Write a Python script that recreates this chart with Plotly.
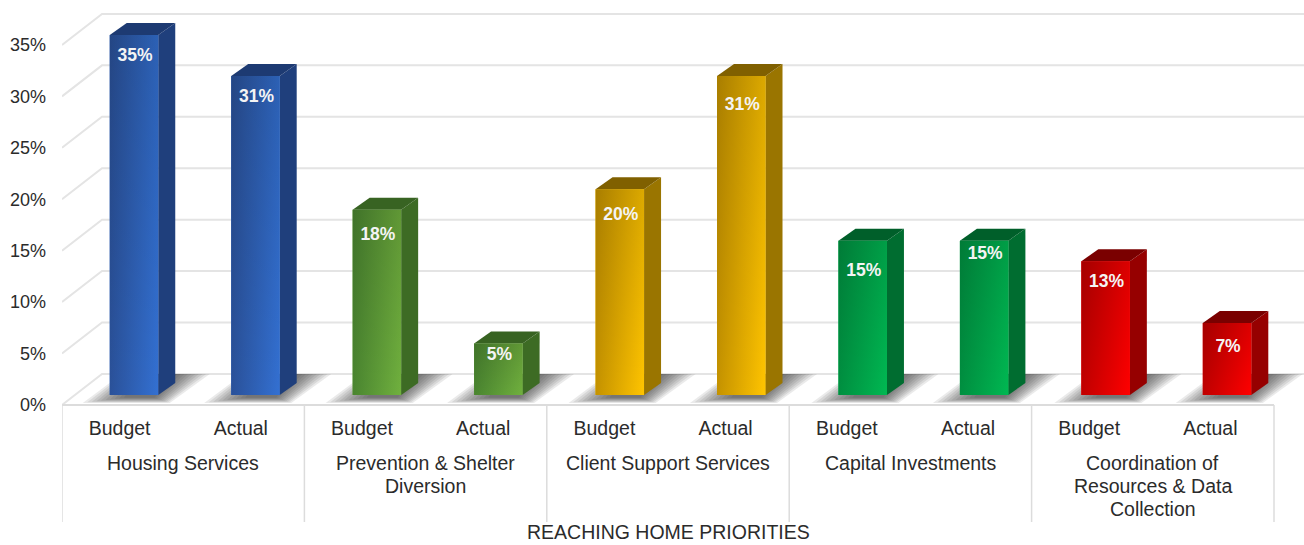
import plotly.graph_objects as go

# ---------- data ----------
groups = [["Housing Services"], ["Prevention &amp; Shelter", "Diversion"], ["Client Support Services"],
          ["Capital Investments"], ["Coordination of", "Resources &amp; Data", "Collection"]]
bar_labels = ["Budget", "Actual"] * 5
values = [35, 31, 18, 5, 20, 31, 15, 15, 13, 7]
y_ticks = [0, 5, 10, 15, 20, 25, 30, 35]
axis_title = "REACHING HOME PRIORITIES"

# ---------- style ----------
front_left = ["#2a5199", "#4a8530", "#c49200", "#008f40", "#c00000"]
front_right = ["#3370d2", "#70b03e", "#ffc400", "#00b852", "#ff0000"]
side_col = ["#1f3f7c", "#3d6b24", "#9a7500", "#006d30", "#960000"]
top_col = ["#1d3a72", "#386322", "#806000", "#005f2a", "#7a0000"]
label_drop_px = [22, 22, 26, 12, 26, 30, 31, 14, 21, 25]
FONT = "Liberation Sans, Arial, sans-serif"
TXT = "#2b2b2b"

W, H = 1304, 545
PX_X, PX_Y = 121.2, 10.286          # pixels per x unit / per percentage point
BAR_STEP = 121.45 / PX_X            # the bars sit a touch wider apart than the floor cells
Y_MIN, Y_MAX = -0.2, 38.2
M_L, M_T, M_B = 62, 12, 138
X_MIN = -0.5
X_MAX = X_MIN + (W - M_L) / PX_X
WALL_DX, WALL_DV = 40 / PX_X, 31 / PX_Y    # depth of the floor / back wall
BAR_DX, BAR_BASE = 11.4 / PX_X, 10 / PX_Y  # where the bars stand on the floor
DEPTH_DX, DEPTH_DV = 17 / PX_X, 12 / PX_Y  # depth of a bar
BAR_W = 48.5 / PX_X
PLOT_H = H - M_T - M_B
bar_x = [i * BAR_STEP + BAR_DX for i in range(len(values))]


def paper_y(px):
    return -(px - (H - M_B)) / PLOT_H


def path(pts):
    return "M " + " L ".join(f"{x:.4f},{y:.4f}" for x, y in pts) + " Z"


def open_path(pts):
    return "M " + " L ".join(f"{x:.4f},{y:.4f}" for x, y in pts)


shapes = []
# back wall grid + left wall diagonals
for v in y_ticks:
    shapes.append(dict(type="path", layer="below", xref="x", yref="y",
                       path=open_path([(X_MIN, v), (X_MIN + WALL_DX, v + WALL_DV), (X_MAX + 1, v + WALL_DV)]),
                       line=dict(color="#e4e4e4", width=2)))
# shadows on the floor, built as stacked translucent layers to get a soft edge
LAYERS = 10
for cx in bar_x:
    xl = cx - BAR_W / 2
    for k in range(LAYERS):
        ins = k * 2.4
        pts = [
            (xl + (-27 + ins * 1.9) / PX_X, (2.0 + ins * 0.25) / PX_Y),
            (xl + (60 - ins * 0.7) / PX_X, (2.0 + ins * 0.25) / PX_Y),
            (xl + (100 - ins * 1.5) / PX_X, 31 / PX_Y),
            (xl + (12 + ins * 1.0) / PX_X, 31 / PX_Y),
        ]
        shapes.append(dict(type="path", layer="below", xref="x", yref="y", path=path(pts),
                           fillcolor="rgba(50,50,50,0.10)", line=dict(width=0)))
# floor front edge
shapes.append(dict(type="line", layer="below", xref="x", yref="y", x0=X_MIN, x1=9.5, y0=0, y1=0,
                   line=dict(color="#dcdcdc", width=2)))
# dividers under the axis
for e in [-0.5, 1.5, 3.5, 5.5, 7.5, 9.5]:
    shapes.append(dict(type="line", layer="below", xref="x", yref="paper", x0=e, x1=e,
                       y0=paper_y(405), y1=paper_y(522),
                       line=dict(color="#dcdcdc", width=1.5)))

fig = go.Figure()
fig.add_trace(go.Bar(x=bar_x, y=values, base=BAR_BASE, width=BAR_W,
                     marker=dict(color=[front_right[i // 2] for i in range(len(values))], line=dict(width=0)),
                     cliponaxis=False, hoverinfo="skip", showlegend=False))

for i, v in enumerate(values):
    g = i // 2
    xl = bar_x[i] - BAR_W / 2
    xr = xl + BAR_W
    y0 = BAR_BASE
    y1 = BAR_BASE + v
    # side face
    fig.add_trace(go.Scatter(x=[xr, xr + DEPTH_DX, xr + DEPTH_DX, xr, xr],
                             y=[y0, y0 + DEPTH_DV, y1 + DEPTH_DV, y1, y0],
                             mode="lines", fill="toself", fillcolor=side_col[g], line=dict(width=0),
                             hoverinfo="skip", showlegend=False, cliponaxis=False))
    # top face
    fig.add_trace(go.Scatter(x=[xl, xr, xr + DEPTH_DX, xl + DEPTH_DX, xl],
                             y=[y1, y1, y1 + DEPTH_DV, y1 + DEPTH_DV, y1],
                             mode="lines", fill="toself", fillcolor=top_col[g], line=dict(width=0),
                             hoverinfo="skip", showlegend=False, cliponaxis=False))
    # front face: horizontal gradient, then a vertical darkening on top of it
    fig.add_trace(go.Scatter(x=[xl, xr, xr, xl, xl], y=[y0, y0, y1, y1, y0],
                             mode="lines", fill="toself", line=dict(width=0),
                             fillgradient=dict(type="horizontal",
                                               colorscale=[[0, front_left[g]], [1, front_right[g]]]),
                             hoverinfo="skip", showlegend=False, cliponaxis=False))
    fig.add_trace(go.Scatter(x=[xl, xr, xr, xl, xl], y=[y0, y0, y1, y1, y0],
                             mode="lines", fill="toself", line=dict(width=0),
                             fillgradient=dict(type="vertical",
                                               colorscale=[[0, "rgba(0,0,0,0)"], [1, "rgba(0,0,0,0.14)"]]),
                             hoverinfo="skip", showlegend=False, cliponaxis=False))

# data labels
fig.add_trace(go.Scatter(x=[x + 1 / PX_X for x in bar_x],
                         y=[BAR_BASE + v - d / PX_Y for v, d in zip(values, label_drop_px)],
                         text=[f"{v}%" for v in values], mode="text", textposition="middle center",
                         textfont=dict(family=FONT, size=17.5, color="#f4f4f4", weight="bold"),
                         hoverinfo="skip", showlegend=False, cliponaxis=False))

annotations = []
for k, lines in enumerate(groups):
    for n, line in enumerate(lines):
        annotations.append(dict(x=2 * k + 0.5, xref="x", yref="paper",
                                y=paper_y(463 + 23 * n), yanchor="middle", xanchor="center",
                                text=line, showarrow=False,
                                font=dict(family=FONT, size=19.5, color=TXT)))
annotations.append(dict(x=((525 + 811) / 2 - M_L) / (W - M_L), xref="paper", yref="paper", y=paper_y(545),
                        yanchor="bottom", xanchor="center", text=axis_title, showarrow=False,
                        font=dict(family=FONT, size=19.5, color=TXT)))

fig.update_layout(
    width=W, height=H, autosize=False,
    margin=dict(l=M_L, r=0, t=M_T, b=M_B, pad=0),
    paper_bgcolor="white", plot_bgcolor="white", showlegend=False, barmode="overlay",
    shapes=shapes, annotations=annotations,
    xaxis=dict(range=[X_MIN, X_MAX], tickmode="array",
               tickvals=[i - 3 / PX_X for i in range(len(values))],
               ticktext=bar_labels, showgrid=False, zeroline=False, showline=False, ticks="",
               ticklabelstandoff=7, tickangle=0,
               tickfont=dict(family=FONT, size=19.5, color=TXT)),
    yaxis=dict(range=[Y_MIN, Y_MAX], tickmode="array", tickvals=y_ticks,
               ticktext=[f"{t}%" for t in y_ticks], showgrid=False, zeroline=False, showline=False,
               ticks="", ticklabelstandoff=15,
               tickfont=dict(family=FONT, size=18, color=TXT)),
)

fig.write_html("out.html", config={"displayModeBar": False},
               post_script="document.body.style.margin='0';")
